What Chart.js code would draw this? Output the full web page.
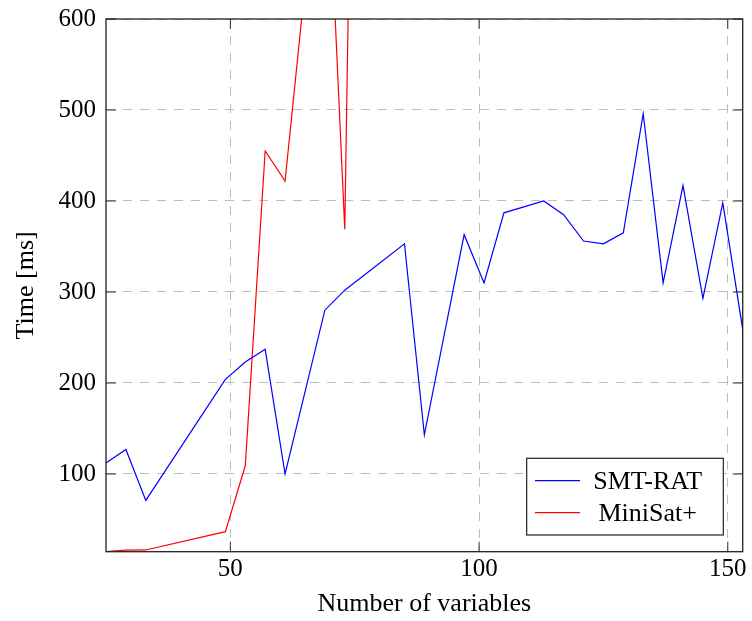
<!DOCTYPE html>
<html>
<head>
<meta charset="utf-8">
<script src="https://cdn.jsdelivr.net/npm/chart.js@4.4.1/dist/chart.umd.min.js"></script>
<style>
html,body{margin:0;padding:0;background:#fff;}
#wrap{width:752px;height:621px;position:relative;}
</style>
</head>
<body>
<div id="wrap"><canvas id="c" width="752" height="621"></canvas></div>
<script>
// ---- data ----
const variables = [25,29,33,49,53,57,61,69,73,85,89,97,101,105,113,117,121,125,129,133,137,141,145,149,153];
const smtRat    = [112,127,71,204,223,237,100,280,302,353,143,363,310,387,400,385,356,353,365,496,310,417,293,398,259];
const miniSatVariables = [25,29,33,49,53,57,61,69,73,85];
const miniSat          = [14.6,16.3,16.5,36.6,109,455,422,850,369,4500];
const xTicks = [50,100,150];
const yTicks = [100,200,300,400,500,600];
const xRange = [25,153];
const yRange = [14.6,600];
const seriesNames = ['SMT-RAT','MiniSat+'];
const xTitle = 'Number of variables';
const yTitle = 'Time [ms]';

const toPoints = (xs, ys) => xs.map((x, i) => ({x: x, y: ys[i]}));

Chart.defaults.font.family = "'Liberation Serif', 'DejaVu Serif', serif";
Chart.defaults.font.size = 25;
Chart.defaults.color = '#000';

const FONT_FAMILY = "'Liberation Serif', 'DejaVu Serif', serif";

const framePlugin = {
  id: 'frame',
  afterDatasetsDraw(chart) {
    const {ctx, chartArea: a, scales} = chart;
    ctx.save();
    ctx.strokeStyle = '#333';
    ctx.lineWidth = 1;
    const tl = 10;
    ctx.beginPath();
    xTicks.forEach(v => {
      const px = scales.x.getPixelForValue(v);
      ctx.moveTo(px, a.bottom); ctx.lineTo(px, a.bottom - tl);
      ctx.moveTo(px, a.top); ctx.lineTo(px, a.top + tl);
    });
    yTicks.forEach(v => {
      const py = scales.y.getPixelForValue(v);
      ctx.moveTo(a.left, py); ctx.lineTo(a.left + tl, py);
      ctx.moveTo(a.right, py); ctx.lineTo(a.right - tl, py);
    });
    ctx.stroke();
    ctx.strokeStyle = '#222';
    ctx.lineWidth = 1.3;
    ctx.strokeRect(a.left, a.top, a.right - a.left, a.bottom - a.top);
    ctx.restore();
  },
  afterDraw(chart) {
    const {ctx, chartArea: a} = chart;
    const w = 196.6, h = 76.7;
    const x0 = a.right - 19.4 - w;
    const y0 = a.bottom - 16.7 - h;
    ctx.save();
    ctx.fillStyle = '#fff';
    ctx.fillRect(x0, y0, w, h);
    ctx.strokeStyle = '#222';
    ctx.lineWidth = 1.2;
    ctx.strokeRect(x0, y0, w, h);
    ctx.font = '26px ' + FONT_FAMILY;
    ctx.textAlign = 'center';
    ctx.textBaseline = 'alphabetic';
    chart.data.datasets.forEach((ds, i) => {
      const ly = y0 + 22.4 + i * 32;
      ctx.strokeStyle = ds.borderColor;
      ctx.lineWidth = 1.2;
      ctx.beginPath();
      ctx.moveTo(x0 + 8.3, ly);
      ctx.lineTo(x0 + 53.3, ly);
      ctx.stroke();
      ctx.fillStyle = '#000';
      ctx.fillText(ds.label, x0 + 121, ly + 7.8);
    });
    ctx.restore();
  }
};

new Chart(document.getElementById('c'), {
  type: 'line',
  data: {
    datasets: [
      {label: seriesNames[0], data: toPoints(variables, smtRat), borderColor: '#0000ff', borderWidth: 1.2, pointRadius: 0, tension: 0, fill: false},
      {label: seriesNames[1], data: toPoints(miniSatVariables, miniSat), borderColor: '#ff0000', borderWidth: 1.2, pointRadius: 0, tension: 0, fill: false}
    ]
  },
  options: {
    responsive: false,
    animation: false,
    devicePixelRatio: 1,
    layout: {padding: {top: 19, right: 9.3, left: 0, bottom: 0}},
    plugins: {legend: {display: false}, tooltip: {enabled: false}},
    scales: {
      x: {
        type: 'linear',
        min: xRange[0], max: xRange[1],
        afterBuildTicks: s => { s.ticks = xTicks.map(v => ({value: v})); },
        afterFit: s => { s.height = 69.3; s.paddingLeft = 0; s.paddingRight = 0; },
        grid: {color: '#bdbdbd', lineWidth: 1, drawTicks: false},
        border: {display: false, dash: [9, 8]},
        ticks: {padding: 3, font: {size: 25}, maxRotation: 0},
        title: {display: true, text: xTitle, font: {size: 26}, padding: {top: 0, bottom: 1}}
      },
      y: {
        type: 'linear',
        min: yRange[0], max: yRange[1],
        afterBuildTicks: s => { s.ticks = yTicks.map(v => ({value: v})); },
        afterFit: s => { s.width = 106; s.paddingTop = 0; s.paddingBottom = 0; },
        grid: {color: '#bdbdbd', lineWidth: 1, drawTicks: false},
        border: {display: false, dash: [9, 8]},
        ticks: {padding: 10, font: {size: 25}},
        title: {display: true, text: yTitle, font: {size: 26}, padding: {top: 11, bottom: 0}}
      }
    }
  },
  plugins: [framePlugin]
});
</script>
</body>
</html>
